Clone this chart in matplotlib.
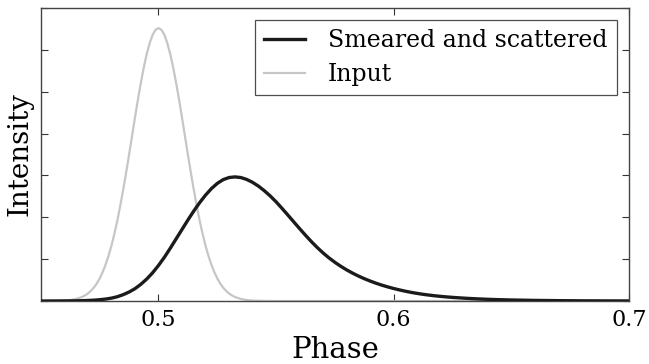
"""Pulse profile before and after smearing + scattering.

The input pulse is a narrow component at phase 0.5; after intra-channel
smearing and the one-sided scattering tail it comes out broader, shifted
later in phase and with a lower peak (same area).
"""

from __future__ import annotations

import matplotlib

matplotlib.use("Agg")
import matplotlib.pyplot as plt  # noqa: E402

# ---- profile samples (phase, intensity in arbitrary units) ----
INPUT_PHASE = [
    0.450, 0.455, 0.4575, 0.460, 0.4625, 0.465, 0.4675, 0.46875, 0.470,
    0.47125, 0.4725, 0.47375, 0.475, 0.47625, 0.4775, 0.47875, 0.480,
    0.48125, 0.4825, 0.48375, 0.485, 0.48625, 0.4875, 0.48875, 0.490,
    0.49125, 0.4925, 0.49375, 0.495, 0.49625, 0.4975, 0.49875, 0.500,
    0.50125, 0.5025, 0.50375, 0.505, 0.50625, 0.5075, 0.50875, 0.510,
    0.51125, 0.5125, 0.51375, 0.515, 0.51625, 0.5175, 0.51875, 0.520,
    0.52125, 0.5225, 0.52375, 0.525, 0.52625, 0.5275, 0.52875, 0.530,
    0.53125, 0.5325, 0.535, 0.5375, 0.540, 0.545, 0.550, 0.600, 0.650,
    0.700,
]
INPUT_INTENSITY = [
    0.0, 0.002, 0.006, 0.011, 0.024, 0.049, 0.097, 0.133, 0.181,
    0.242, 0.320, 0.418, 0.540, 0.689, 0.867, 1.08, 1.32,
    1.61, 1.92, 2.28, 2.66, 3.07, 3.50, 3.94, 4.38,
    4.81, 5.21, 5.58, 5.90, 6.16, 6.36, 6.48, 6.52,
    6.48, 6.36, 6.16, 5.90, 5.58, 5.21, 4.81, 4.38,
    3.94, 3.50, 3.07, 2.66, 2.28, 1.92, 1.61, 1.32,
    1.08, 0.867, 0.689, 0.540, 0.418, 0.320, 0.242, 0.181,
    0.133, 0.097, 0.049, 0.024, 0.011, 0.002, 0.0, 0.0, 0.0,
    0.0,
]

OUTPUT_PHASE = [
    0.450, 0.455, 0.460, 0.4625, 0.465, 0.4675, 0.470, 0.4725, 0.475,
    0.4775, 0.480, 0.4825, 0.485, 0.4875, 0.490, 0.4925, 0.495, 0.4975,
    0.500, 0.5025, 0.505, 0.5075, 0.510, 0.5125, 0.515, 0.5175, 0.520,
    0.5225, 0.525, 0.5275, 0.530, 0.5325, 0.535, 0.5375, 0.540, 0.5425,
    0.545, 0.5475, 0.550, 0.5525, 0.555, 0.5575, 0.560, 0.5625, 0.565,
    0.5675, 0.570, 0.5725, 0.575, 0.5775, 0.580, 0.5825, 0.585, 0.5875,
    0.590, 0.5925, 0.595, 0.5975, 0.600, 0.6025, 0.605, 0.6075, 0.610,
    0.6125, 0.615, 0.6175, 0.620, 0.6225, 0.625, 0.630, 0.635, 0.640,
    0.645, 0.650, 0.660, 0.670, 0.680, 0.690, 0.700,
]
OUTPUT_INTENSITY = [
    0.0, 0.001, 0.002, 0.003, 0.005, 0.008, 0.013, 0.020, 0.031,
    0.047, 0.069, 0.103, 0.152, 0.215, 0.295, 0.40, 0.525, 0.675,
    0.85, 1.045, 1.26, 1.485, 1.71, 1.935, 2.15, 2.35, 2.53,
    2.685, 2.81, 2.90, 2.95, 2.965, 2.95, 2.905, 2.835, 2.745,
    2.635, 2.51, 2.37, 2.215, 2.055, 1.892, 1.73, 1.572, 1.42,
    1.278, 1.148, 1.03, 0.925, 0.83, 0.744, 0.667, 0.597, 0.534,
    0.477, 0.425, 0.379, 0.337, 0.299, 0.265, 0.234, 0.206, 0.182,
    0.160, 0.142, 0.125, 0.111, 0.098, 0.087, 0.068, 0.053, 0.041,
    0.032, 0.025, 0.015, 0.009, 0.005, 0.003, 0.002,
]

PHASE_TICKS = [0.5, 0.6, 0.7]
INTENSITY_TICKS = [0, 1, 2, 3, 4, 5, 6, 7]


def main() -> None:
    plt.rcParams["font.family"] = "DejaVu Serif"

    fig = plt.figure(figsize=(6.49, 3.64), dpi=100)
    ax = fig.add_axes([0.063, 0.173, 0.906, 0.805])

    ax.plot(OUTPUT_PHASE, OUTPUT_INTENSITY, color="#1c1a1a", lw=2.4,
            label="Smeared and scattered", zorder=3)
    ax.plot(INPUT_PHASE, INPUT_INTENSITY, color="#c6c6c8", lw=1.6,
            label="Input", zorder=2)

    ax.set_xlim(0.45, 0.7)
    ax.set_ylim(0, 7)
    ax.set_xticks(PHASE_TICKS)
    ax.set_xticklabels([f"{t:g}" for t in PHASE_TICKS])
    ax.set_yticks(INTENSITY_TICKS)
    ax.set_yticklabels([])
    ax.tick_params(direction="in", top=True, right=True, length=5,
                   width=0.8, color="#333333", labelsize=16, pad=6)
    for sp in ax.spines.values():
        sp.set_color("#444444")
        sp.set_linewidth(1.0)

    ax.set_xlabel("Phase", fontsize=21, labelpad=3)
    ax.set_ylabel("Intensity", fontsize=20)
    ax.yaxis.set_label_coords(-0.012, 0.5)

    leg = ax.legend(loc="upper right", fontsize=17, fancybox=False,
                    edgecolor="#222222", handlelength=1.7, handletextpad=1.0,
                    borderaxespad=0.5, borderpad=0.4, labelspacing=0.45)
    leg.get_frame().set_linewidth(0.9)

    fig.savefig("out.png", dpi=100)
    plt.close(fig)


if __name__ == "__main__":
    main()
